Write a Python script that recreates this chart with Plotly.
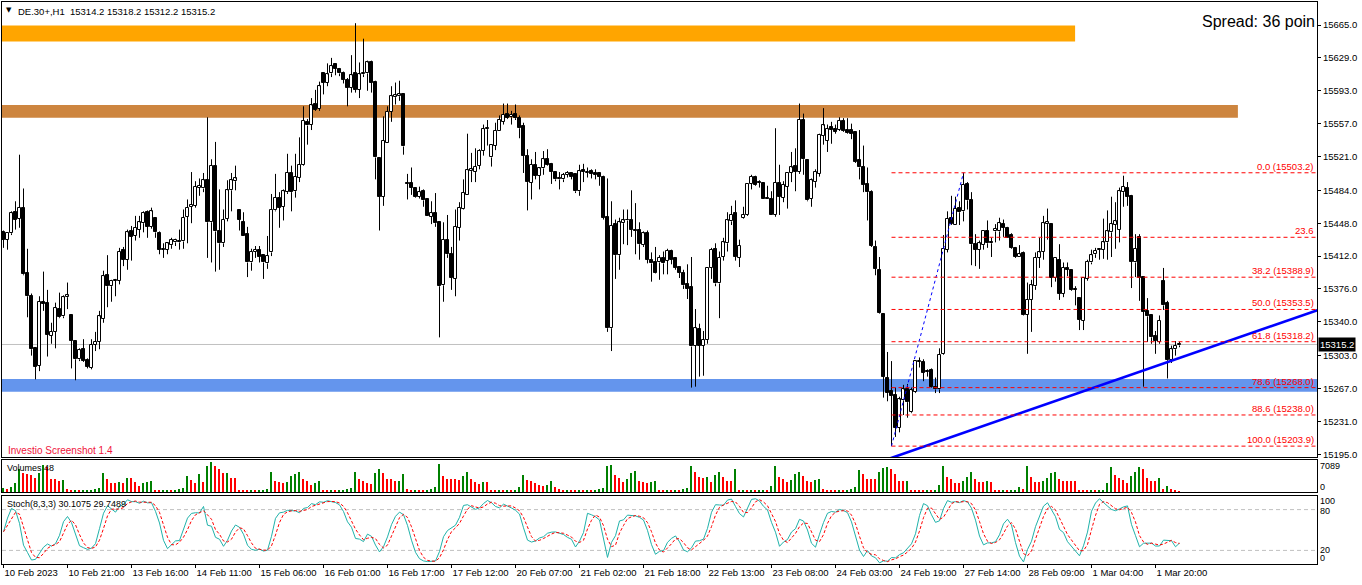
import plotly.graph_objects as go

# ---------------- data ----------------
OPEN = [15438,15430,15437,15460,15453,15465,15394,15368,15311,15292,15362,15361,15325,15329,15354,15346,15367,
15348,15319,15299,15310,15298,15290,15315,15318,15343,15391,15379,15385,15385,15419,15408,15439,15434,15441,15448,15460,15444,
15454,15437,15419,15419,15424,15427,15429,15428,15455,15466,15467,15487,15486,15495,15449,15511,15439,15426,15453,15484,15494,
15462,15449,15436,15405,15417,15419,15413,15404,15416,15462,15476,15466,15482,15503,15483,15498,15512,15559,15556,15578,15573,
15613,15602,15612,15622,15617,15613,15605,15596,15612,15594,15611,15612,15624,15603,15519,15477,15536,15570,15586,15587,15589,
15492,15492,15486,15477,15483,15474,15455,15459,15449,15380,15430,15414,15387,15443,15464,15479,15505,15504,15511,15527,15551,
15520,15533,15549,15559,15568,15564,15568,15563,15554,15522,15492,15512,15500,15508,15518,15513,15504,15497,15496,15501,15503,
15502,15483,15506,15503,15505,15503,15503,15499,15455,15333,15447,15413,15448,15452,15451,15441,15441,15424,15437,15408,15406,
15405,15410,15407,15418,15410,15400,15394,15381,15378,15314,15332,15314,15320,15399,15420,15382,15411,15426,15450,15459,15410,
15454,15457,15491,15499,15493,15492,15476,15475,15457,15492,15476,15488,15503,15511,15504,15561,15517,15475,15493,15502,15544,
15538,15553,15551,15550,15560,15550,15550,15548,15517,15509,15491,15482,15422,15397,15349,15279,15264,15260,15224,15254,15266,
15241,15263,15296,15296,15286,15287,15269,15266,15305,15419,15454,15446,15465,15461,15491,15473,15425,15419,15424,15440,15427,
15439,15439,15447,15443,15435,15421,15411,15415,15348,15364,15379,15410,15417,15447,15447,15388,15408,15371,15399,15397,15376,
15366,15341,15387,15405,15414,15419,15419,15427,15438,15446,15441,15482,15487,15478,15405,15433,15389,15352,15347,15324,15318,
15385,15361,15298,15310,15314.2]
HIGH = [15440,15437,15461,15472,15523,15486,15420,15371,15311,15368,15395,15375,15339,15361,15372,15369,15383,
15348,15320,15311,15321,15300,15321,15329,15352,15396,15413,15386,15387,15421,15422,15441,15445,15456,15456,15461,15462,15465,
15454,15439,15426,15427,15432,15431,15441,15463,15474,15504,15494,15497,15503,15564,15518,15537,15485,15463,15495,15503,15511,
15462,15460,15444,15420,15423,15423,15413,15434,15480,15502,15482,15485,15524,15511,15524,15542,15576,15562,15585,15594,15603,
15613,15623,15629,15623,15618,15614,15607,15632,15667,15624,15650,15626,15626,15604,15519,15565,15576,15598,15602,15604,15589,
15502,15509,15487,15488,15485,15474,15472,15481,15449,15449,15457,15422,15463,15471,15496,15546,15525,15530,15529,15556,15561,
15534,15558,15566,15579,15579,15571,15578,15566,15558,15529,15518,15526,15509,15527,15529,15514,15504,15504,15503,15505,15504,
15502,15512,15513,15509,15507,15507,15504,15500,15497,15472,15452,15454,15463,15463,15484,15470,15449,15439,15440,15416,15422,
15413,15417,15420,15419,15411,15401,15397,15403,15411,15354,15338,15330,15399,15421,15426,15417,15432,15460,15467,15473,15430,
15466,15492,15501,15500,15495,15493,15489,15483,15552,15512,15494,15504,15526,15530,15579,15568,15517,15497,15507,15546,15574,
15556,15559,15556,15564,15563,15563,15557,15548,15550,15533,15509,15484,15429,15411,15349,15307,15297,15268,15258,15271,15272,
15268,15298,15301,15299,15288,15289,15279,15311,15435,15461,15478,15477,15472,15503.2,15493,15482,15436,15429,15440,15451,15432,
15447,15454,15452,15444,15437,15422,15424,15417,15383,15386,15416,15432,15456,15464,15448,15411,15425,15405,15405,15397,15379,
15366,15388,15408,15419,15421,15420,15453,15462,15477,15471,15487,15500,15493,15479,15436,15436,15389,15366,15347,15330,15347,
15399,15363,15314,15319,15318.2]
LOW = [15421,15419,15435,15441,15443,15391,15345,15303,15277,15286,15352,15302,15316,15311,15344,15344,15354,
15289,15276,15297,15296,15289,15288,15308,15310,15339,15356,15362,15368,15381,15401,15397,15407,15429,15432,15438,15432,15442,
15432,15414,15410,15414,15420,15423,15419,15420,15426,15448,15465,15478,15482,15410,15405,15395,15397,15422,15450,15461,15484,
15440,15434,15389,15396,15410,15405,15387,15398,15412,15461,15443,15451,15480,15461,15476,15493,15511,15534,15550,15571,15571,
15589,15598,15608,15610,15609,15601,15576,15591,15591,15585,15608,15593,15591,15496,15440,15467,15536,15559,15578,15582,15523,
15474,15479,15476,15475,15466,15456,15447,15444,15323,15362,15410,15375,15368,15429,15463,15479,15493,15493,15507,15522,15533,
15510,15528,15549,15556,15562,15556,15561,15541,15503,15462,15474,15496,15485,15501,15511,15491,15494,15485,15493,15498,15496,
15481,15478,15493,15498,15497,15496,15489,15452,15329,15308,15387,15397,15425,15424,15433,15414,15408,15422,15404,15384,15393,
15386,15392,15392,15403,15397,15388,15376,15365,15268,15269,15280,15281,15316,15387,15379,15344,15407,15417,15446,15407,15400,
15453,15456,15485,15489,15487,15475,15474,15457,15455,15457,15471,15464,15493,15483,15502,15501,15472,15466,15487,15499,15534,
15526,15535,15546,15549,15548,15546,15540,15514,15496,15482,15451,15422,15391,15349,15257,15253,15203.9,15214,15219,15238,15235,
15240,15262,15290,15275,15280,15268,15262,15262,15304,15416,15446,15446,15446,15450,15463,15402,15401,15398,15419,15421,15411,
15427,15429,15433,15432,15420,15410,15411,15347,15305,15329,15375,15399,15408,15430,15378,15384,15364,15367,15390,15374,15358,
15331,15331,15385,15403,15410,15408,15409,15408,15411,15420,15427,15466,15467,15377,15389,15363,15269,15318,15316,15305,15316,
15353,15278,15295,15303,15312.2]
CLOSE = [15430,15437,15459,15452,15465,15392,15368,15310,15291,15362,15360,15326,15329,15355,15345,15367,15369,
15319,15299,15309,15297,15291,15315,15318,15346,15390,15379,15385,15386,15417,15408,15438,15433,15443,15449,15459,15444,15461,
15438,15419,15420,15426,15430,15430,15427,15454,15465,15468,15488,15489,15495,15449,15511,15439,15426,15452,15484,15495,15497,
15452,15434,15405,15417,15419,15411,15405,15412,15463,15476,15465,15483,15503,15482,15499,15512,15560,15555,15577,15572,15598,
15602,15611,15620,15617,15612,15605,15596,15610,15594,15611,15613,15624,15602,15520,15477,15538,15570,15587,15588,15589,15532,
15491,15487,15477,15482,15473,15456,15459,15448,15379,15430,15414,15388,15444,15465,15481,15506,15507,15510,15527,15551,15552,
15534,15549,15561,15567,15563,15567,15563,15552,15522,15493,15512,15500,15508,15518,15512,15504,15496,15496,15501,15503,15499,
15483,15505,15504,15504,15502,15501,15499,15454,15333,15445,15413,15449,15451,15451,15441,15440,15425,15437,15408,15404,15394,
15410,15404,15418,15408,15399,15394,15380,15376,15313,15333,15314,15320,15399,15419,15382,15410,15427,15451,15457,15411,15423,
15457,15491,15499,15490,15492,15475,15474,15457,15492,15477,15490,15503,15509,15504,15561,15518,15473,15495,15504,15545,15555,
15551,15550,15548,15560,15549,15547,15546,15515,15509,15490,15482,15423,15398,15350,15280,15262,15259,15224,15255,15266,15252,
15265,15297,15296,15284,15285,15269,15266,15304,15420,15453,15447,15464,15460,15490,15473,15425,15419,15426,15440,15426,15426,
15442,15448,15443,15432,15421,15411,15414,15348,15364,15380,15410,15416,15448,15449,15388,15410,15371,15399,15397,15375,15375,
15342,15388,15406,15413,15418,15419,15427,15439,15447,15450,15483,15488,15477,15406,15420,15388,15351,15346,15323,15319,15341,
15358,15298,15310,15314,15315.2]
VOLUME = [900,600,1150,2150,5400,4450,4400,4000,3450,4500,6500,5900,3200,3100,2700,2850,620,
250,400,300,350,450,500,700,1000,4600,3200,2150,2100,2300,2150,3450,3300,2300,1550,2100,2450,2550,
300,250,350,400,300,450,600,900,3850,2850,2150,4200,2300,6150,7089,6150,5550,4450,4500,3450,3400,
500,350,300,400,250,450,550,800,4800,2700,2300,2100,2300,3850,4200,4850,3200,2700,1750,2150,2700,
400,300,350,250,400,500,650,900,4800,3200,2550,2100,1950,4450,5400,4600,3200,3150,2550,2700,4250,
600,450,500,350,300,400,800,1200,6800,3850,3200,3150,3100,2900,3850,4800,3200,2300,2000,2450,2400,
400,300,350,300,400,350,500,1100,4000,2850,2550,2100,1700,1550,1700,2700,1150,770,400,500,350,
350,400,300,450,350,500,600,1000,6150,6400,4000,3300,2450,3050,4600,5000,2700,2450,2150,2300,2550,
400,300,500,350,400,300,600,900,6300,4800,3600,3450,3600,2300,4000,4800,3600,2700,2650,5600,400,
450,350,400,300,450,500,350,1550,6150,3600,3100,2300,2900,4200,4800,3850,2700,2300,2900,3100,770,
400,350,300,450,350,500,600,1150,5150,4200,3100,3050,3000,4850,5800,5900,5400,4200,2700,2550,2700,
500,400,350,300,450,400,550,1750,6300,3600,3100,2100,2050,2700,3600,4800,3200,2300,2300,2550,2500,
450,350,400,300,350,450,1150,600,6150,3600,2450,2400,2700,3300,4450,4800,3200,2700,2650,2650,2550,
500,400,350,450,300,400,500,2050,5900,4000,3450,2850,2150,3850,4850,5900,5400,3300,2700,2550,3300,
620,1400,770,400,48]

X_TICK_BARS = list(range(0, 289, 16))
X_TICK_LABELS = ["10 Feb 2023", "10 Feb 21:00", "13 Feb 16:00", "14 Feb 11:00", "15 Feb 06:00",
                 "16 Feb 01:00", "16 Feb 17:00", "17 Feb 12:00", "20 Feb 07:00", "21 Feb 02:00",
                 "21 Feb 18:00", "22 Feb 13:00", "23 Feb 08:00", "24 Feb 03:00", "24 Feb 19:00",
                 "27 Feb 14:00", "28 Feb 09:00", "1 Mar 04:00", "1 Mar 20:00"]
PRICE_TICKS = [15195.0, 15231.0, 15267.0, 15303.0, 15340.0, 15376.0, 15412.0, 15448.0,
               15484.0, 15521.0, 15557.0, 15593.0, 15629.0, 15665.0]

# zones (price bands) and their right ends in bars
ORANGE_ZONE = (15647.0, 15664.5, 267.9)
BROWN_ZONE = (15563.5, 15577.4, 308.6)
BLUE_ZONE = (15263.5, 15277.4, None)

# Fibonacci retracement
FIB_START_BAR, FIB_END_BAR = 222, 240
FIB_LOW, FIB_HIGH = 15203.9, 15503.2
FIB_LEVELS = [0.0, 23.6, 38.2, 50.0, 61.8, 78.6, 88.6, 100.0]
FIB_LABELS = ["0.0 (15503.2)", "23.6", "38.2 (15388.9)", "50.0 (15353.5)", "61.8 (15318.2)",
              "78.6 (15268.0)", "88.6 (15238.0)", "100.0 (15203.9)"]

# blue trend line anchors (bar, price)
TREND_BARS = [223.4, 328.1]
TREND_PRICES = [15193.2, 15352.2]

LAST_PRICE = 15315.2

# ---------------- geometry ----------------
W, H = 1362, 585
ML, MR, MT, MB = 2, 45, 2, 21
PW, PH = W - ML - MR, H - MT - MB
FONT = "Liberation Sans, Arial, sans-serif"


def fx(px):
    return (px - ML) / PW


def fy(py):
    return 1 - (py - MT) / PH


X_RANGE = [(ML - 3.5) / 4.0, (ML + PW - 3.5) / 4.0]
Y_RANGE = [15192.0, 15690.2]

n = len(CLOSE)
idx = list(range(n))

# wicks
wx, wy = [], []
for i in idx:
    top = max(OPEN[i], CLOSE[i])
    bot = min(OPEN[i], CLOSE[i])
    if HIGH[i] > top:
        wx += [i, i, None]
        wy += [HIGH[i], top, None]
    if LOW[i] < bot:
        wx += [i, i, None]
        wy += [bot, LOW[i], None]

up = [i for i in idx if CLOSE[i] >= OPEN[i]]
dn = [i for i in idx if CLOSE[i] < OPEN[i]]


def body(ids):
    base = [min(OPEN[i], CLOSE[i]) for i in ids]
    hgt = [max(abs(CLOSE[i] - OPEN[i]), 0.6) for i in ids]
    return base, hgt


ub, uh = body(up)
db, dh = body(dn)

# stochastic (8,3,3) computed from the OHLC above
K, SLOW, D = 8, 3, 3
hh = [max(HIGH[max(0, i - K + 1):i + 1]) for i in idx]
ll = [min(LOW[max(0, i - K + 1):i + 1]) for i in idx]
st_main = []
for i in idx:
    js = range(max(0, i - SLOW + 1), i + 1)
    num = sum(CLOSE[j] - ll[j] for j in js)
    den = sum(hh[j] - ll[j] for j in js)
    st_main.append(100.0 * num / den if den else 100.0)
st_sig = [sum(st_main[max(0, i - D + 1):i + 1]) / len(st_main[max(0, i - D + 1):i + 1]) for i in idx]

vcol = ["#008000" if (i == 0 or VOLUME[i] > VOLUME[i - 1]) else "#FF0000" for i in idx]
vg = [i for i in idx if vcol[i] == "#008000"]
vr = [i for i in idx if vcol[i] == "#FF0000"]

fig = go.Figure()
fig.add_trace(go.Scatter(x=wx, y=wy, mode="lines", line=dict(color="black", width=1),
                         hoverinfo="skip", xaxis="x", yaxis="y"))
fig.add_trace(go.Bar(x=up, y=uh, base=ub, width=0.55, marker=dict(color="white", line=dict(color="black", width=1)),
                     hoverinfo="skip", xaxis="x", yaxis="y"))
fig.add_trace(go.Bar(x=dn, y=dh, base=db, width=0.55, marker=dict(color="black", line=dict(color="black", width=1)),
                     hoverinfo="skip", xaxis="x", yaxis="y"))
# fib dotted connector
fig.add_trace(go.Scatter(x=[FIB_START_BAR, FIB_END_BAR], y=[FIB_LOW, FIB_HIGH], mode="lines",
                         line=dict(color="#0000FF", width=1, dash="dot"), hoverinfo="skip", xaxis="x", yaxis="y"))
# trend line (extended)
slope = (TREND_PRICES[1] - TREND_PRICES[0]) / (TREND_BARS[1] - TREND_BARS[0])
tx = [TREND_BARS[0] - 5, X_RANGE[1] + 2]
ty = [TREND_PRICES[0] + slope * (t - TREND_BARS[0]) for t in tx]
fig.add_trace(go.Scatter(x=tx, y=ty, mode="lines", line=dict(color="#0000FF", width=2.6),
                         hoverinfo="skip", xaxis="x", yaxis="y"))
# volumes
fig.add_trace(go.Bar(x=vg, y=[VOLUME[i] for i in vg], width=0.3, marker=dict(color="#008000", line=dict(width=0)),
                     hoverinfo="skip", xaxis="x2", yaxis="y2"))
fig.add_trace(go.Bar(x=vr, y=[VOLUME[i] for i in vr], width=0.3, marker=dict(color="#FF0000", line=dict(width=0)),
                     hoverinfo="skip", xaxis="x2", yaxis="y2"))
# stochastic
fig.add_trace(go.Scatter(x=idx, y=st_main, mode="lines", line=dict(color="#20B2AA", width=1),
                         hoverinfo="skip", xaxis="x3", yaxis="y3"))
fig.add_trace(go.Scatter(x=idx, y=st_sig, mode="lines", line=dict(color="#FF0000", width=1, dash="3px,2px"),
                         hoverinfo="skip", xaxis="x3", yaxis="y3"))

shapes = []
for (p0, p1, xe), col in [(ORANGE_ZONE, "#FFA500"), (BROWN_ZONE, "#CD853F"), (BLUE_ZONE, "#6495ED")]:
    shapes.append(dict(type="rect", xref="x", yref="y", x0=X_RANGE[0], x1=(xe if xe is not None else X_RANGE[1]),
                       y0=p0, y1=p1, fillcolor=col, line=dict(width=0), layer="below"))
shapes.append(dict(type="line", xref="x", yref="y", x0=X_RANGE[0], x1=X_RANGE[1], y0=LAST_PRICE, y1=LAST_PRICE,
                   line=dict(color="#C0C0C0", width=1), layer="below"))
fib_prices = [FIB_HIGH - lv / 100.0 * (FIB_HIGH - FIB_LOW) for lv in FIB_LEVELS]
for fp in fib_prices:
    shapes.append(dict(type="line", xref="x", yref="y", x0=FIB_START_BAR, x1=X_RANGE[1], y0=fp, y1=fp,
                       line=dict(color="#FF0000", width=1, dash="4px,3px"), layer="above"))
for lv in (20, 80):
    shapes.append(dict(type="line", xref="x3", yref="y3", x0=X_RANGE[0], x1=X_RANGE[1], y0=lv, y1=lv,
                       line=dict(color="#C0C0C0", width=1, dash="4px,3px"), layer="below"))

anns = []


def ann(text, px, py, size=9, color="black", xanchor="left", family=FONT, **kw):
    d = dict(text=text, x=fx(px), y=fy(py), xref="paper", yref="paper", xanchor=xanchor, yanchor="middle",
             showarrow=False, font=dict(size=size, color=color, family=family), borderpad=0)
    d.update(kw)
    anns.append(d)


ann("▼", 5, 10, size=7, family="DejaVu Sans")
ann("DE.30+,H1  15314.2 15318.2 15312.2 15315.2", 17, 11, size=9.5)
ann("Spread: 36 poin", 1316, 22, size=16, xanchor="right")
ann("Investio Screenshot 1.4", 7, 450, size=10, color="#F0143C")
ann("Volumes 48", 6, 468)
ann("Stoch(8,3,3) 30.1075 29.7489", 6, 504)
ann("7089", 1319, 466)
ann("0", 1319, 486.5)
ann("100", 1319, 501)
ann("80", 1319, 510.5)
ann("20", 1319, 549.5)
ann("0", 1319, 558)
for fp, lab in zip(fib_prices, FIB_LABELS):
    anns.append(dict(text=lab, x=fx(1315), y=fp, xref="paper", yref="y", xanchor="right", yanchor="bottom",
                     showarrow=False, font=dict(size=9.5, color="#FF0000", family=FONT), borderpad=0))
anns.append(dict(text="15315.2", x=fx(1318), y=LAST_PRICE, xref="paper", yref="y", xanchor="left",
                 yanchor="middle", showarrow=False, bgcolor="black", borderpad=1,
                 font=dict(size=9.5, color="white", family=FONT)))

axis_common = dict(showgrid=False, zeroline=False, showline=True, linecolor="black", linewidth=1,
                   mirror=True, automargin=False)

fig.update_layout(
    width=W, height=H, template="none",
    margin=dict(l=ML, r=MR, t=MT, b=MB, autoexpand=False),
    paper_bgcolor="white", plot_bgcolor="white",
    showlegend=False, barmode="overlay", bargap=0,
    font=dict(family=FONT, size=9, color="black"),
    xaxis=dict(domain=[0, 1], range=X_RANGE, anchor="y", showticklabels=False, ticks="", **axis_common),
    xaxis2=dict(domain=[0, 1], range=X_RANGE, anchor="y2", matches="x", showticklabels=False, ticks="", **axis_common),
    xaxis3=dict(domain=[0, 1], range=X_RANGE, anchor="y3", matches="x", tickmode="array",
                tickvals=X_TICK_BARS, ticktext=X_TICK_LABELS, ticks="outside", ticklen=3, tickcolor="black",
                tickangle=0, ticklabelposition="outside right", tickfont=dict(size=9.5, family=FONT),
                **axis_common),
    yaxis=dict(domain=[fy(457), 1], range=Y_RANGE, anchor="x", side="right", tickmode="array",
               tickvals=PRICE_TICKS, ticktext=["%.1f" % v for v in PRICE_TICKS], ticks="outside",
               ticklen=3, tickcolor="black", tickfont=dict(size=9.5, family=FONT), **axis_common),
    yaxis2=dict(domain=[fy(492), fy(460)], range=[0, 7650], anchor="x2", side="right",
                showticklabels=False, ticks="", **axis_common),
    yaxis3=dict(domain=[0, fy(496)], range=[0, 100], anchor="x3", side="right",
                showticklabels=False, ticks="", **axis_common),
    shapes=shapes, annotations=anns,
)

fig.write_html("out.html", config={"displayModeBar": False},
               post_script="document.body.style.margin='0';document.body.style.padding='0';")
